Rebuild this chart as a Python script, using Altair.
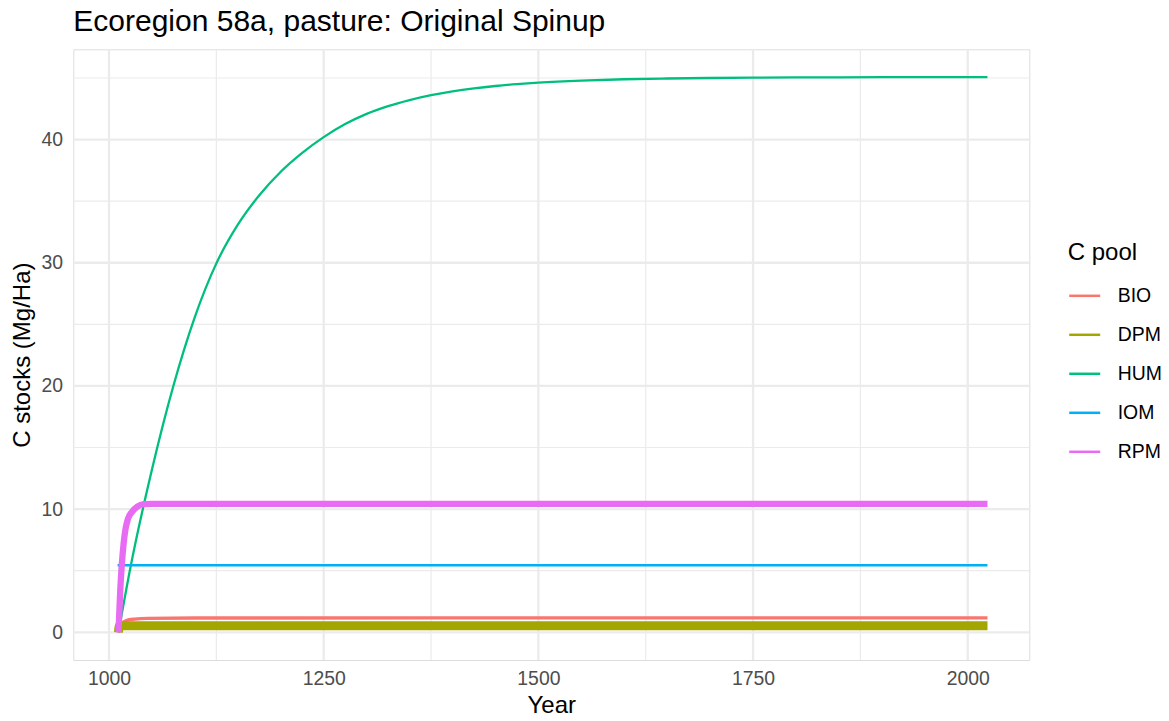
import altair as alt
import pandas as pd

# ---- data ----
POOLS = ["BIO", "DPM", "HUM", "IOM", "RPM"]
COLORS = ["#F8766D", "#A3A500", "#00BF7D", "#00B0F6", "#E76BF3"]

BIO_YEARS = [1011, 1013, 1016, 1020, 1030, 1045, 1100, 2023]
BIO_VALUES = [0.0, 0.5, 0.8, 0.95, 1.07, 1.13, 1.16, 1.17]

DPM_YEARS = [1011, 1012, 2023]
DPM_VALUES = [0.0, 0.53, 0.53]

HUM_YEARS = [1011, 1025, 1050, 1075, 1100, 1125, 1150, 1175, 1200, 1225, 1250, 1275, 1300,
             1325, 1350, 1375, 1400, 1425, 1450, 1475, 1500, 1550, 1600, 1650, 1700, 1750,
             1800, 1900, 2023]
HUM_VALUES = [0.0, 5.28, 13.22, 20.02, 25.61, 29.95, 33.09, 35.48, 37.39, 38.92, 40.2, 41.26, 42.09,
              42.72, 43.21, 43.61, 43.92, 44.16, 44.35, 44.5, 44.62, 44.79, 44.9, 44.96, 45.0, 45.03,
              45.045, 45.063, 45.07]

IOM_YEARS = [1010, 2023]
IOM_VALUES = [5.44, 5.44]

RPM_YEARS = [1011, 1013, 1015, 1017, 1019, 1022, 1027, 1033, 1040, 1050, 2023]
RPM_VALUES = [0.0, 3.3, 5.6, 7.2, 8.3, 9.2, 9.8, 10.2, 10.4, 10.43, 10.43]

X_TICKS = [1000, 1250, 1500, 1750, 2000]
X_MINOR = [1125, 1375, 1625, 1875]
Y_TICKS = [0, 10, 20, 30, 40]
Y_MINOR = [5, 15, 25, 35, 45]

series = {
    "BIO": (BIO_YEARS, BIO_VALUES),
    "DPM": (DPM_YEARS, DPM_VALUES),
    "HUM": (HUM_YEARS, HUM_VALUES),
    "IOM": (IOM_YEARS, IOM_VALUES),
    "RPM": (RPM_YEARS, RPM_VALUES),
}
# apparent line thickness of each pool (monthly oscillation makes some look thick)
WIDTHS = {"BIO": 3.3, "DPM": 9.0, "HUM": 2.3, "IOM": 2.4, "RPM": 6.3}

FONT = "Liberation Sans"
XS = alt.Scale(domain=[958.4, 2071.7], nice=False, zero=False)
YS = alt.Scale(domain=[-2.25, 47.33], nice=False, zero=False)

X_AXIS = alt.Axis(values=X_TICKS, format="d", grid=False, domain=False, ticks=False, tickSize=0,
                  labelFont=FONT, labelFontSize=19.4, labelColor="#4D4D4D", labelPadding=9.5,
                  title="Year", titleFont=FONT, titleFontSize=24, titleFontWeight="normal",
                  titleColor="#000000", titlePadding=6, labelFlush=False)
Y_AXIS = alt.Axis(values=Y_TICKS, format="d", grid=False, domain=False, ticks=False, tickSize=0,
                  labelFont=FONT, labelFontSize=19.4, labelColor="#4D4D4D", labelPadding=10.8,
                  title="C stocks (Mg/Ha)", titleFont=FONT, titleFontSize=24,
                  titleFontWeight="normal", titleColor="#000000", titlePadding=6, labelFlush=False)

GRID = "#EBEBEB"
LEGEND = alt.Legend(title="C pool", orient="none", legendX=994.4, legendY=191.5,
                    titleFont=FONT, titleFontSize=24, titleFontWeight="normal",
                    titleColor="#000000", titlePadding=14,
                    labelFont=FONT, labelFontSize=19.4, labelColor="#000000",
                    labelOffset=16, symbolType="stroke", symbolSize=961,
                    symbolStrokeWidth=2.5, rowPadding=12)
CS = alt.Scale(domain=POOLS, range=COLORS)


def vrules(vals, w):
    return alt.Chart(pd.DataFrame({"year": vals})).mark_rule(color=GRID, strokeWidth=w).encode(
        x=alt.X("year:Q", scale=XS, axis=X_AXIS))


def hrules(vals, w):
    return alt.Chart(pd.DataFrame({"value": vals})).mark_rule(color=GRID, strokeWidth=w).encode(
        y=alt.Y("value:Q", scale=YS, axis=Y_AXIS))


def pool_line(pool):
    ys, vs = series[pool]
    d = pd.DataFrame({"pool": [pool] * len(ys), "year": ys, "value": vs})
    return alt.Chart(d).mark_line(interpolate="monotone", strokeCap="butt", strokeJoin="round",
                                  strokeWidth=WIDTHS[pool]).encode(
        x=alt.X("year:Q", scale=XS, axis=X_AXIS),
        y=alt.Y("value:Q", scale=YS, axis=Y_AXIS),
        color=alt.Color("pool:N", scale=CS, legend=LEGEND),
    )


chart = alt.layer(
    vrules(X_MINOR, 1.2), vrules(X_TICKS, 2.3),
    hrules(Y_MINOR, 1.2), hrules(Y_TICKS, 2.3),
    *[pool_line(p) for p in POOLS],
).properties(
    width=956, height=610.7,
    autosize=alt.AutoSizeParams(type="none"),
    padding={"left": 73.3, "top": 49.3, "right": 139.7, "bottom": 61},
    title=alt.TitleParams("Ecoregion 58a, pasture: Original Spinup", anchor="start", frame="group",
                          font=FONT, fontSize=30, fontWeight="normal", color="#000000", offset=11.5),
).configure_view(stroke=None).configure(background="white")

chart.save("out.html", embed_options={"renderer": "svg", "actions": False})
